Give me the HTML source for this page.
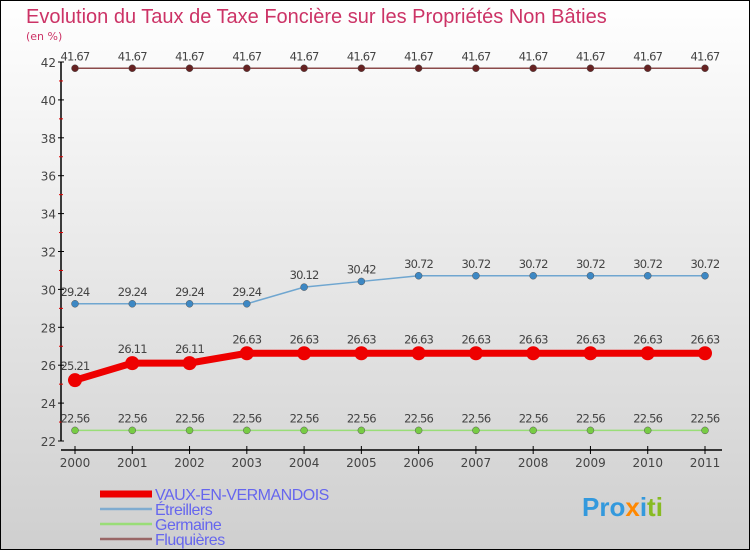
<!DOCTYPE html>
<html><head><meta charset="utf-8"><style>
html,body{margin:0;padding:0}
body{width:750px;height:550px;overflow:hidden;font-family:"DejaVu Sans","Liberation Sans",sans-serif}
</style></head><body>
<svg id="chart" width="750" height="550" xmlns="http://www.w3.org/2000/svg">
<defs><linearGradient id="bg" x1="0" y1="0" x2="0" y2="1"><stop offset="0" stop-color="#ffffff"/><stop offset="1" stop-color="#cfcfcf"/></linearGradient></defs>
<rect x="0.5" y="0.5" width="749" height="549" fill="url(#bg)" stroke="#000"/>
<text x="26" y="23" font-size="20" fill="#cc3366" font-family="Liberation Sans, sans-serif" style="font-weight:300">Evolution du Taux de Taxe Foncière sur les Propriétés Non Bâties</text>
<text x="26" y="40" font-size="11" fill="#cc3366">(en %)</text>
<g id="axes"></g>
<g id="series"></g>
<g id="legend"></g>
<text x="582" y="516" font-size="26" font-weight="bold" font-family="Liberation Sans, sans-serif"><tspan fill="#3399dd">Pro</tspan><tspan fill="#ff8800">x</tspan><tspan fill="#3399dd">i</tspan><tspan fill="#88bb22">ti</tspan></text>
</svg>
<script>
const years=["2000","2001","2002","2003","2004","2005","2006","2007","2008","2009","2010","2011"];
const vaux=[25.21,26.11,26.11,26.63,26.63,26.63,26.63,26.63,26.63,26.63,26.63,26.63];
const etreillers=[29.24,29.24,29.24,29.24,30.12,30.42,30.72,30.72,30.72,30.72,30.72,30.72];
const germaine=[22.56,22.56,22.56,22.56,22.56,22.56,22.56,22.56,22.56,22.56,22.56,22.56];
const fluquieres=[41.67,41.67,41.67,41.67,41.67,41.67,41.67,41.67,41.67,41.67,41.67,41.67];
const yTicks=[22,24,26,28,30,32,34,36,38,40,42];
const seriesNames=["VAUX-EN-VERMANDOIS","Étreillers","Germaine","Fluquières"];
const NS="http://www.w3.org/2000/svg";
const xs=i=>75+i*(630/(years.length-1));
const ys=v=>441-(v-22)*(379/20);
function mk(tag,attrs,parent,txt){const e=document.createElementNS(NS,tag);for(const k in attrs)e.setAttribute(k,attrs[k]);if(txt!==undefined)e.textContent=txt;parent.appendChild(e);return e;}
const ax=document.getElementById('axes');
let e=mk('line',{x1:61,y1:ys(42),x2:61,y2:ys(22),stroke:'#000','stroke-width':1.5},ax);


yTicks.forEach(v=>{
 mk('line',{x1:58,y1:ys(v),x2:64,y2:ys(v),stroke:'#000'},ax);
 const t=mk('text',{x:56,y:ys(v)+5,'font-size':12,fill:'#444','text-anchor':'end'},ax,String(v));
 
 
 if(v<42) mk('line',{x1:59,y1:ys(v+1),x2:63,y2:ys(v+1),stroke:'#d00'},ax);
});
e=mk('line',{x1:61,y1:450,x2:722,y2:450,stroke:'#000','stroke-width':1.5},ax);


years.forEach((y,i)=>{
 mk('line',{x1:xs(i),y1:446,x2:xs(i),y2:454,stroke:'#000'},ax);
 const t=mk('text',{x:xs(i),y:467,'font-size':12,fill:'#444','text-anchor':'middle'},ax,y);
 
 
});
const sg=document.getElementById('series');
const defs=[
 {d:fluquieres,c:'#8b4a4a',dot:'#662222',w:1.5,r:3.5,name:'series-fluquieres'},
 {d:etreillers,c:'#6fa6d0',dot:'#3d88c4',w:1.5,r:3.5,name:'series-etreillers'},
 {d:germaine,c:'#99dd77',dot:'#77cc44',w:1.5,r:3.5,name:'series-germaine'},
 {d:vaux,c:'#ee0000',dot:'#ee0000',w:7,r:7,name:'series-vaux'}];
defs.forEach(s=>{
 const g=mk('g',{},sg);
 
 
 mk('polyline',{points:s.d.map((v,i)=>xs(i)+','+ys(v)).join(' '),fill:'none',stroke:s.c,'stroke-width':s.w},g);
 s.d.forEach((v,i)=>{
  const c=mk('circle',{cx:xs(i),cy:ys(v),r:s.r,fill:s.dot,stroke:s.w>2?'none':'#555','stroke-width':0.5},g);
  
  
  const t=mk('text',{x:xs(i),y:ys(v)-(s.w>2?10:8),'font-size':11.5,fill:'#444','text-anchor':'middle','letter-spacing':'-0.8'},g,v.toFixed(2));
  
  
 });
});
const lg=document.getElementById('legend');
const lc=['#ee0000','#80acd0','#99dd77','#996666'],lw=[7,2.5,2.5,2.5];
seriesNames.forEach((n,i)=>{
 const y=494+i*15;
 const g=mk('g',{},lg);
 
 
 mk('line',{x1:100,y1:y,x2:152,y2:y,stroke:lc[i],'stroke-width':lw[i]},g);
 mk('text',{x:155,y:y+6,'font-size':16,fill:'#6666ee','font-family':'Liberation Sans, sans-serif','letter-spacing':'-0.5'},g,n);
});
</script>
</body></html>
